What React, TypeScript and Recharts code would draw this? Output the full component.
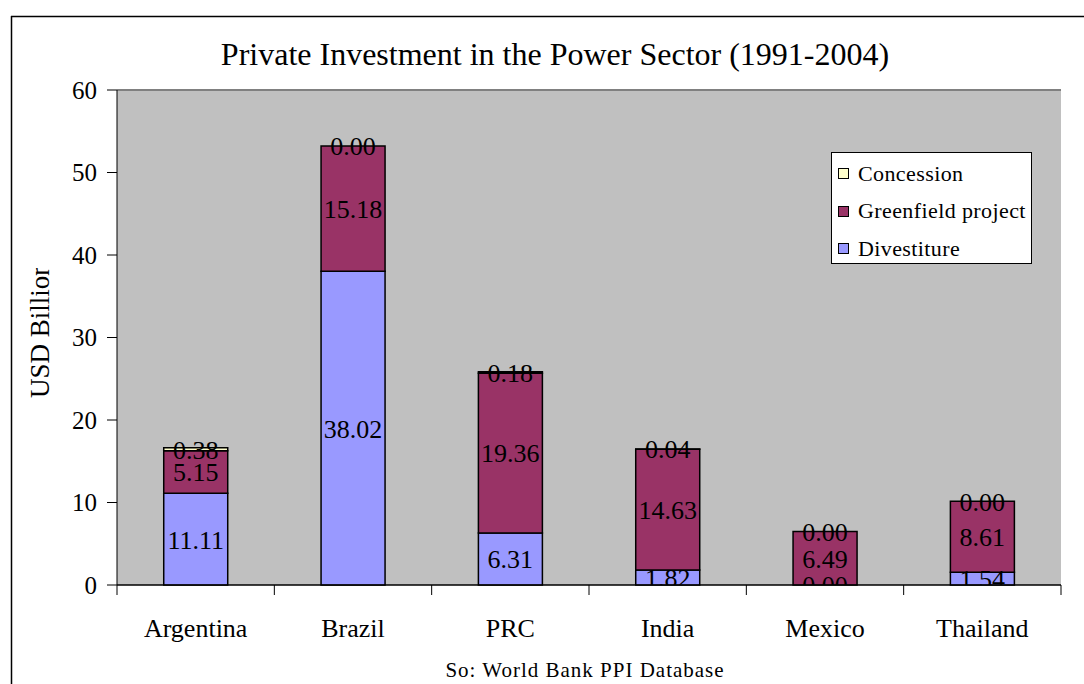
import React from 'react';
import { Bar, Line, XAxis, YAxis, CartesianGrid, Legend, LabelList, ReferenceLine, ComposedChart } from 'recharts';

const categories = ['Argentina', 'Brazil', 'PRC', 'India', 'Mexico', 'Thailand'];
const divestiture = [11.11, 38.02, 6.31, 1.82, 0.0, 1.54];
const greenfield = [5.15, 15.18, 19.36, 14.63, 6.49, 8.61];
const concession = [0.38, 0.0, 0.18, 0.04, 0.0, 0.0];
const yTicks = [0, 10, 20, 30, 40, 50, 60];
const seriesNames = ['Divestiture', 'Greenfield project', 'Concession'];
const seriesColors = ['#9999FF', '#993366', '#FFFFCC'];
const titleText = 'Private Investment in the Power Sector (1991-2004)';
const yAxisTitle = 'USD Billion';
const sourceText = 'So: World Bank PPI Database';

// table for the library: raw values plus the middle of each stacked segment (for the value labels)
const data = categories.map((name, i) => ({
  name,
  div: divestiture[i],
  green: greenfield[i],
  conc: concession[i],
  divMid: divestiture[i] / 2,
  greenMid: divestiture[i] + greenfield[i] / 2,
  concMid: divestiture[i] + greenfield[i] + concession[i] / 2,
}));

const FONT = '"Liberation Serif", "Times New Roman", serif';

const XTick = (props: any) => {
  const { x, y, payload, index, visibleTicksCount } = props;
  const off = payload && payload.offset ? payload.offset : 0;
  const axisY = y - 10;
  return (
    <g>
      <line x1={x - off} x2={x - off} y1={axisY} y2={axisY + 10} stroke="#000" strokeWidth={1} />
      {index === visibleTicksCount - 1 ? (
        <line x1={x + off} x2={x + off} y1={axisY} y2={axisY + 10} stroke="#000" strokeWidth={1} />
      ) : null}
      <text x={x} y={y + 42} textAnchor="middle" fontFamily={FONT} fontSize={26} fill="#000">
        {payload.value}
      </text>
    </g>
  );
};

const PointLabel = (props: any) => {
  const { x, y, value } = props;
  if (x == null || y == null) return null;
  return (
    <text
      x={x}
      y={y}
      dy="0.36em"
      textAnchor="middle"
      fontFamily={FONT}
      fontSize={26}
      fill="#000"
      clipPath="url(#plotClip)"
    >
      {Number(value).toFixed(2)}
    </text>
  );
};

const legendOrder = [2, 1, 0];

const LegendBox = () => (
  <div
    style={{
      background: '#fff',
      border: '1.5px solid #000',
      width: 201,
      height: 112,
      boxSizing: 'border-box',
      padding: '2px 0 0 6px',
      fontFamily: FONT,
      fontSize: 22,
      letterSpacing: 0.4,
      lineHeight: 1,
    }}
  >
    {legendOrder.map((k) => (
      <div key={seriesNames[k]} style={{ display: 'flex', alignItems: 'center', height: 37.5 }}>
        <span
          style={{
            display: 'inline-block',
            width: 9,
            height: 9,
            border: '1.5px solid #000',
            background: seriesColors[k],
            marginRight: 9,
            flex: 'none',
          }}
        />
        <span style={{ color: '#000', whiteSpace: 'nowrap' }}>{seriesNames[k]}</span>
      </div>
    ))}
  </div>
);

export default function App() {
  return (
    <div style={{ position: 'absolute', left: 0, top: 0, width: 1084, height: 684, background: '#fff', overflow: 'hidden' }}>
      <svg width={0} height={0} style={{ position: 'absolute' }}>
        <defs>
          <clipPath id="plotClip" clipPathUnits="userSpaceOnUse">
            <rect x={117} y={80} width={944} height={505} />
          </clipPath>
          <clipPath id="yLabClip" clipPathUnits="userSpaceOnUse">
            <rect x={0} y={268} width={117} height={300} />
          </clipPath>
        </defs>
      </svg>
      <ComposedChart
        width={1084}
        height={684}
        data={data}
        margin={{ top: 90, right: 23, bottom: 69, left: 0 }}
        barCategoryGap="29.7%"
      >
        <CartesianGrid vertical={false} stroke="#000" strokeWidth={1} fill="#C0C0C0" fillOpacity={1} />
        <XAxis
          dataKey="name"
          height={30}
          axisLine={{ stroke: '#000', strokeWidth: 1 }}
          tickLine={false}
          tickSize={10}
          tickMargin={0}
          interval={0}
          tick={<XTick />}
        />
        <YAxis
          yAxisId="left"
          width={117}
          domain={[0, 60]}
          ticks={yTicks}
          interval={0}
          axisLine={{ stroke: '#000', strokeWidth: 1 }}
          tickLine={{ stroke: '#000', strokeWidth: 1 }}
          tickSize={10}
          tickMargin={10}
          tick={{ fill: '#000', fontFamily: FONT, fontSize: 25 }}
        />
        <YAxis
          yAxisId="right"
          orientation="right"
          width={0}
          domain={[0, 60]}
          ticks={yTicks}
          tick={false}
          tickLine={false}
          axisLine={{ stroke: '#808080', strokeWidth: 2 }}
        />
        <ReferenceLine yAxisId="left" y={60} stroke="#808080" strokeWidth={2} />
        <Bar yAxisId="left" dataKey="div" name={seriesNames[0]} stackId="a" fill={seriesColors[0]} stroke="#000" strokeWidth={1.5} isAnimationActive={false} />
        <Bar yAxisId="left" dataKey="green" name={seriesNames[1]} stackId="a" fill={seriesColors[1]} stroke="#000" strokeWidth={1.5} isAnimationActive={false} />
        <Bar yAxisId="left" dataKey="conc" name={seriesNames[2]} stackId="a" fill={seriesColors[2]} stroke="#000" strokeWidth={1.5} isAnimationActive={false} />
        <Line yAxisId="left" dataKey="divMid" stroke="none" dot={false} activeDot={false} legendType="none" isAnimationActive={false}>
          <LabelList dataKey="div" content={<PointLabel />} />
        </Line>
        <Line yAxisId="left" dataKey="greenMid" stroke="none" dot={false} activeDot={false} legendType="none" isAnimationActive={false}>
          <LabelList dataKey="green" content={<PointLabel />} />
        </Line>
        <Line yAxisId="left" dataKey="concMid" stroke="none" dot={false} activeDot={false} legendType="none" isAnimationActive={false}>
          <LabelList dataKey="conc" content={<PointLabel />} />
        </Line>
        <Legend
          layout="vertical"
          align="center"
          verticalAlign="middle"
          content={<LegendBox />}
          wrapperStyle={{ position: 'absolute', left: 831, top: 152, width: 201, height: 112 }}
        />
      </ComposedChart>
      <svg width={1084} height={684} style={{ position: 'absolute', left: 0, top: 0, pointerEvents: 'none' }}>
        <line x1={11.5} y1={16} x2={11.5} y2={684} stroke="#000" strokeWidth={1.5} />
        <line x1={11} y1={16.5} x2={1084} y2={16.5} stroke="#000" strokeWidth={1.5} />
        <text x={555} y={65} textAnchor="middle" fontFamily={FONT} fontSize={32} fill="#000">
          {titleText}
        </text>
        <g clipPath="url(#yLabClip)">
          <text transform="translate(49,398) rotate(-90)" textAnchor="start" fontFamily={FONT} fontSize={27} fill="#000">
            {yAxisTitle}
          </text>
        </g>
        <text x={585} y={677} textAnchor="middle" fontFamily={FONT} fontSize={21} letterSpacing={1} fill="#000">
          {sourceText}
        </text>
      </svg>
    </div>
  );
}
